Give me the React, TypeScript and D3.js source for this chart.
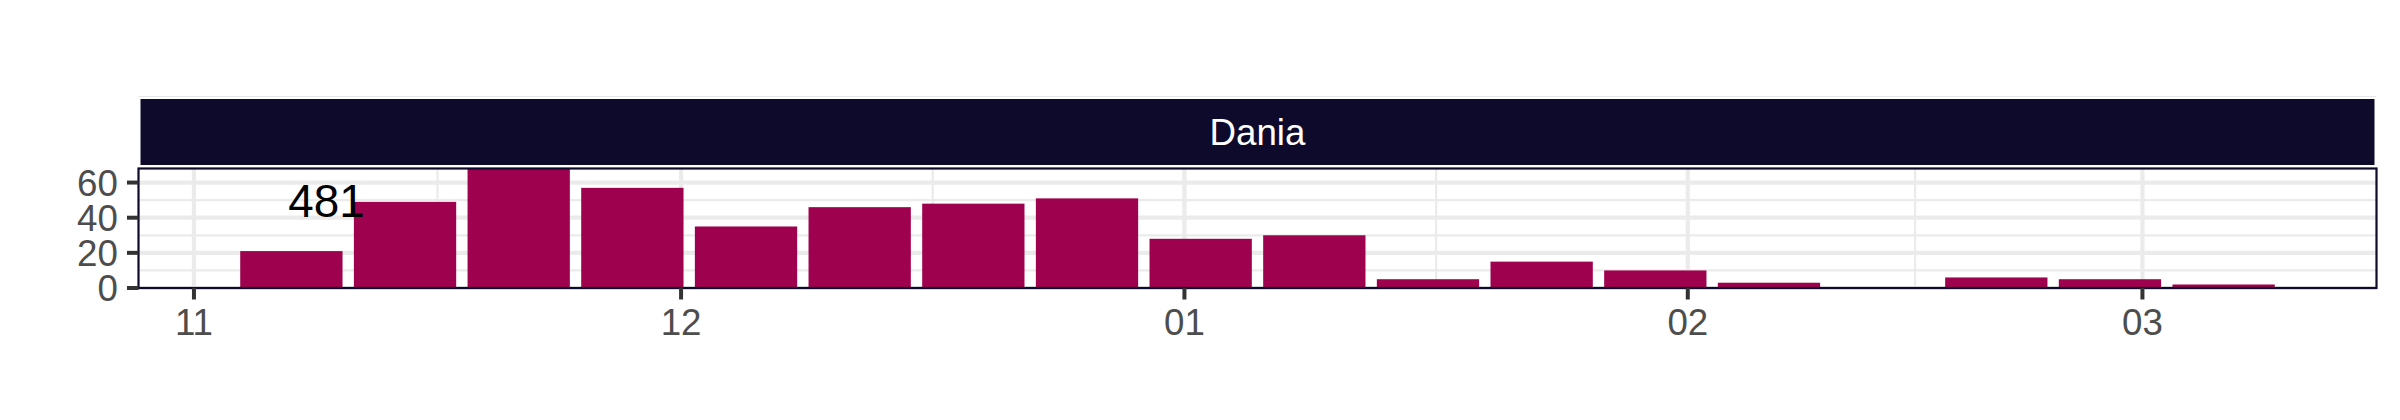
import React from "react";
import * as d3 from "d3";

// ---- data ----
const weekStarts: string[] = [
  "2022-11-07", "2022-11-14", "2022-11-21", "2022-11-28",
  "2022-12-05", "2022-12-12", "2022-12-19", "2022-12-26",
  "2023-01-02", "2023-01-09", "2023-01-16", "2023-01-23",
  "2023-01-30", "2023-02-06", "2023-02-13", "2023-02-20",
  "2023-02-27", "2023-03-06",
];
const counts: number[] = [21, 49, 68, 57, 35, 46, 48, 51, 28, 30, 5, 15, 10, 3, 0, 6, 5, 2];
const panelLabel = "Dania";
const totalLabel = "481";
const totalLabelDate = "2022-11-09T04:00:00Z";
const totalLabelValue = 50;
const yTicks: number[] = [0, 20, 40, 60];
const yMinor: number[] = [10, 30, 50];

const W = 2400;
const H = 420;
const DAY = 86400000;

export default function App() {
  const dates = weekStarts.map((s) => new Date(s + "T00:00:00Z"));
  const halfW = 0.9 * 7 * DAY / 2;
  const lo = +dates[0] - halfW;
  const hi = +dates[dates.length - 1] + halfW;
  const pad = (hi - lo) * 0.05;

  const left = 138.5, right = 2376.5, top = 168.5, bottom = 288;
  const x = d3.scaleUtc().domain([new Date(lo - pad), new Date(hi + pad)]).range([left, right]);
  const y = d3.scaleLinear().domain([0, d3.max(counts) as number]).range([bottom, top]);

  const majors = d3.utcMonth.range(new Date(lo - pad), new Date(hi + pad));
  const allMaj = [d3.utcMonth.offset(majors[0], -1), ...majors, d3.utcMonth.offset(majors[majors.length - 1], 1)];
  const minors: Date[] = [];
  for (let i = 0; i < allMaj.length - 1; i++) {
    const m = new Date((+allMaj[i] + +allMaj[i + 1]) / 2);
    if (+m > lo - pad && +m < hi + pad) minors.push(m);
  }
  const fmt = d3.utcFormat("%m");
  const font = "'Liberation Sans', Arial, Helvetica, sans-serif";
  const dark = "#0D0A2B";
  const barColor = "#9E014E";

  return (
    <svg width={W} height={H} style={{ position: "absolute", left: 0, top: 0, background: "#fff" }} fontFamily={font}>
      <rect x={0} y={0} width={W} height={H} fill="#fff" />
      {/* gridlines */}
      {yMinor.map((v) => (
        <line key={"ym" + v} x1={left} x2={right} y1={y(v)} y2={y(v)} stroke="#EBEBEB" strokeWidth={2.2} />
      ))}
      {minors.map((d, i) => (
        <line key={"xm" + i} x1={x(d)} x2={x(d)} y1={top} y2={bottom} stroke="#EBEBEB" strokeWidth={2.2} />
      ))}
      {yTicks.map((v) => (
        <line key={"yM" + v} x1={left} x2={right} y1={y(v)} y2={y(v)} stroke="#EBEBEB" strokeWidth={4.2} />
      ))}
      {majors.map((d, i) => (
        <line key={"xM" + i} x1={x(d)} x2={x(d)} y1={top} y2={bottom} stroke="#EBEBEB" strokeWidth={4.2} />
      ))}
      {/* bars */}
      {dates.map((d, i) => {
        const x0 = x(new Date(+d - halfW));
        const x1 = x(new Date(+d + halfW));
        return counts[i] > 0 ? (
          <rect key={"b" + i} x={x0} width={x1 - x0} y={y(counts[i])} height={y(0) - y(counts[i])} fill={barColor} />
        ) : null;
      })}
      {/* total label */}
      <text x={x(new Date(totalLabelDate))} y={y(totalLabelValue)} dy="0.36em" textAnchor="middle" fontSize={45.8} fill="#000">
        {totalLabel}
      </text>
      {/* panel border */}
      <rect x={left} y={top} width={right - left} height={bottom - top} fill="none" stroke={dark} strokeWidth={2.2} />
      {/* y axis */}
      {yTicks.map((v) => (
        <g key={"yt" + v}>
          <line x1={left - 11.5} x2={left} y1={y(v)} y2={y(v)} stroke="#333333" strokeWidth={4} />
          <text x={left - 11.5 - 9.2} y={y(v)} dy="0.36em" textAnchor="end" fontSize={36.7} fill="#4D4D4D">
            {v}
          </text>
        </g>
      ))}
      {/* x axis */}
      {majors.map((d, i) => (
        <g key={"xt" + i}>
          <line x1={x(d)} x2={x(d)} y1={bottom} y2={bottom + 11.5} stroke="#333333" strokeWidth={4} />
          <text x={x(d)} y={335} textAnchor="middle" fontSize={36.7} fill="#4D4D4D">
            {fmt(d)}
          </text>
        </g>
      ))}
      {/* strip */}
      <line x1={left} x2={right} y1={96.5} y2={96.5} stroke="#E6E6E6" strokeWidth={1.2} />
      <rect x={left + 2} y={99} width={right - left - 4} height={66} fill={dark} />
      <text x={(left + right) / 2} y={132} dy="0.36em" textAnchor="middle" fontSize={36.7} fill="#fff">
        {panelLabel}
      </text>
    </svg>
  );
}
